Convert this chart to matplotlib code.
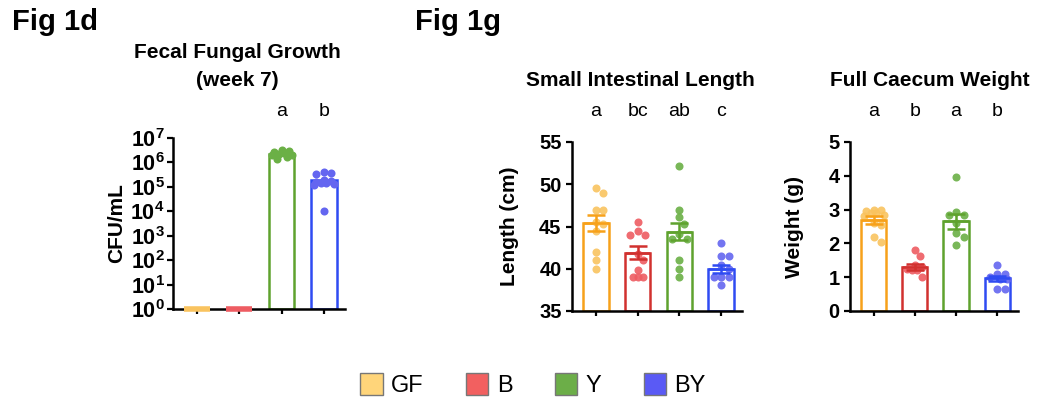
import numpy as np
import matplotlib.pyplot as plt
from matplotlib.patches import Patch
from matplotlib import transforms
from matplotlib.ticker import LogLocator, FixedLocator, FixedFormatter, NullFormatter

plt.rcParams['font.family'] = ['Liberation Sans', 'DejaVu Sans']
plt.rcParams['mathtext.fontset'] = 'custom'
plt.rcParams['mathtext.rm'] = 'Liberation Sans'
plt.rcParams['mathtext.bf'] = 'Liberation Sans:bold'

groups = ['GF', 'B', 'Y', 'BY']

# Fig 1d - fecal fungal growth (CFU/mL), GF and B below detection (plotted at 10^0)
fecal_y = [3.2e6, 3.0e6, 2.6e6, 2.4e6, 2.2e6, 2.1e6, 2.0e6, 1.6e6, 1.4e6]
fecal_by = [4.0e5, 3.8e5, 3.5e5, 2.0e5, 1.8e5, 1.6e5, 1.5e5, 1.4e5, 1.3e5, 1.2e5, 1.0e4]
fecal_mean = [1, 1, 2.2e6, 2.0e5]
fecal_letters = ['', '', 'a', 'b']

# Small intestinal length (cm)
length_gf = [49.5, 49.0, 47.0, 47.0, 45.5, 45.3, 44.5, 42.0, 41.0, 40.0]
length_b = [45.5, 44.5, 44.0, 44.0, 41.8, 41.0, 39.8, 39.0, 39.0, 39.0]
length_y = [52.2, 47.0, 46.1, 45.3, 44.1, 43.5, 43.5, 41.0, 40.0, 39.0]
length_by = [43.0, 41.5, 41.5, 40.5, 40.0, 39.0, 39.0, 39.0, 38.1]
length_mean = [45.4, 41.9, 44.4, 40.0]
length_sem = [0.95, 0.75, 1.0, 0.5]
length_letters = ['a', 'bc', 'ab', 'c']

# Full caecum weight (g)
weight_gf = [3.0, 3.0, 2.95, 2.9, 2.9, 2.85, 2.8, 2.6, 2.55, 2.2, 2.05]
weight_b = [1.8, 1.62, 1.35, 1.3, 1.25, 1.2, 1.2, 1.0]
weight_y = [3.95, 2.92, 2.85, 2.85, 2.6, 2.3, 2.2, 1.95]
weight_by = [1.35, 1.1, 1.1, 1.0, 0.95, 0.95, 0.65, 0.65]
weight_mean = [2.7, 1.3, 2.65, 0.97]
weight_sem = [0.12, 0.1, 0.22, 0.08]
weight_letters = ['a', 'b', 'a', 'b']

edge_cols = ['#F7A11A', '#D1312F', '#5FA22E', '#2F4BF2']
dot_cols = ['#F9C35F', '#EE5C62', '#6BB046', '#6466F0']
legend_cols = ['#FFD57A', '#F26060', '#6CAE48', '#5A5AF5']

W, H = 1039, 401
fig = plt.figure(figsize=(W / 100, H / 100), dpi=100)


def box(l, t, r, b):
    return [l / W, 1 - b / H, (r - l) / W, (b - t) / H]


def style(ax):
    for s in ['top', 'right']:
        ax.spines[s].set_visible(False)
    for s in ['left', 'bottom']:
        ax.spines[s].set_linewidth(1.8)
    ax.tick_params(axis='both', which='major', direction='out', length=4, width=1.6,
                   labelsize=14.5)
    ax.tick_params(axis='x', labelbottom=False, length=3.5)
    for lab in ax.get_yticklabels():
        lab.set_fontweight('bold')
    ax.set_xlim(-0.57, 3.5)
    ax.set_xticks(range(4))


def swarm(ax, x0, vals, d=7.5, maxoff=10):
    # beeswarm in pixel space, kept inside the bar
    tr = ax.transData
    cx = tr.transform((x0, vals[0]))[0]
    placed = []
    xs = []
    cands = sorted(np.arange(-maxoff, maxoff + 0.1, 2.5), key=lambda v: (abs(v), -v))
    for v in vals:
        y = tr.transform((x0, v))[1]
        best, bestd = 0, -1
        for off in cands:
            md = min([np.hypot(cx + off - px, y - py) for px, py in placed] + [1e9])
            if md >= d:
                best = off
                break
            if md > bestd:
                best, bestd = off, md
        placed.append((cx + best, y))
        xs.append(tr.inverted().transform((cx + best, y))[0])
    return xs


def letters(ax, labs, ypx=111):
    tr = transforms.blended_transform_factory(ax.transData, fig.transFigure)
    for i, t in enumerate(labs):
        if t:
            ax.text(i, 1 - ypx / H, t, transform=tr, ha='center', va='center', fontsize=14)


bw = 0.61

# ---- Fig 1d
ax1 = fig.add_axes(box(173, 138, 345, 309))
ax1.set_yscale('log')
ax1.set_ylim(1, 1e7)
style(ax1)
ax1.yaxis.set_major_locator(FixedLocator([10.0 ** k for k in range(8)]))
ax1.yaxis.set_major_formatter(FixedFormatter([r'$\mathbf{10^{%d}}$' % k for k in range(8)]))
ax1.yaxis.set_minor_locator(LogLocator(base=10, subs=np.arange(2, 10)))
ax1.yaxis.set_minor_formatter(NullFormatter())
ax1.tick_params(axis='y', which='minor', length=2.5, width=1.0)
ax1.tick_params(axis='y', which='major', labelsize=15.5, pad=2)
for i, m in enumerate(fecal_mean):
    if m > 1:
        ax1.bar(i, m - 1, bottom=1, width=bw, color='white', edgecolor=edge_cols[i],
                linewidth=1.8, zorder=2)
    else:
        ax1.hlines(m, i - bw / 2, i + bw / 2, color=dot_cols[i], lw=4, zorder=3,
                   clip_on=False)
for i, vals in [(2, fecal_y), (3, fecal_by)]:
    ax1.plot(swarm(ax1, i, vals, d=6.5), vals, 'o', ms=5.8, mew=0, color=dot_cols[i],
             zorder=3)
ax1.set_ylabel('CFU/mL', fontsize=15, fontweight='bold', va='center')
ax1.yaxis.set_label_coords(-0.33, 0.5)
letters(ax1, fecal_letters)


def barpanel(rect, series, means, sems, ylim, yticks, ylabel, labx, labs):
    ax = fig.add_axes(rect)
    ax.set_ylim(*ylim)
    ax.set_yticks(yticks)
    style(ax)
    for i in range(4):
        ax.bar(i, means[i] - ylim[0], bottom=ylim[0], width=bw, color='white',
               edgecolor=edge_cols[i], linewidth=1.8, zorder=2)
        ax.plot(swarm(ax, i, series[i]), series[i], 'o', ms=5.8, mew=0,
                color=dot_cols[i], alpha=0.9, zorder=3)
        ax.errorbar(i, means[i], yerr=sems[i], color=edge_cols[i], capsize=6.5,
                    capthick=1.8, elinewidth=1.8, zorder=4)
        ax.hlines(means[i], i - bw / 2, i + bw / 2, color=edge_cols[i], lw=1.8, zorder=4)
    ax.set_ylabel(ylabel, fontsize=15, fontweight='bold', va='center')
    ax.yaxis.set_label_coords(labx, 0.5)
    letters(ax, labs)
    return ax


ax2 = barpanel(box(572, 142, 742, 311), [length_gf, length_b, length_y, length_by],
               length_mean, length_sem, (35, 55), [35, 40, 45, 50, 55], 'Length (cm)',
               -0.37, length_letters)
ax3 = barpanel(box(850, 142, 1018, 311), [weight_gf, weight_b, weight_y, weight_by],
               weight_mean, weight_sem, (0, 5), [0, 1, 2, 3, 4, 5], 'Weight (g)',
               -0.33, weight_letters)

# titles
fig.text(12 / W, 1 - 22 / H, 'Fig 1d', fontsize=21, fontweight='bold', va='center')
fig.text(415 / W, 1 - 22 / H, 'Fig 1g', fontsize=21, fontweight='bold', va='center')
fig.text(237 / W, 1 - 53 / H, 'Fecal Fungal Growth', fontsize=15, fontweight='bold',
         ha='center', va='center')
fig.text(237 / W, 1 - 80 / H, '(week 7)', fontsize=15, fontweight='bold',
         ha='center', va='center')
fig.text(640 / W, 1 - 80 / H, 'Small Intestinal Length', fontsize=15, fontweight='bold',
         ha='center', va='center')
fig.text(930 / W, 1 - 80 / H, 'Full Caecum Weight', fontsize=15, fontweight='bold',
         ha='center', va='center')

handles = [Patch(facecolor=c, edgecolor='#777777', linewidth=1.0, label=g)
           for c, g in zip(legend_cols, groups)]
fig.legend(handles=handles, loc='center', bbox_to_anchor=(533 / W, 1 - 385 / H),
           ncol=4, frameon=False, fontsize=17, handlelength=0.95, handleheight=1.1,
           handletextpad=0.35, columnspacing=1.8)

fig.savefig('out.png', dpi=100)
